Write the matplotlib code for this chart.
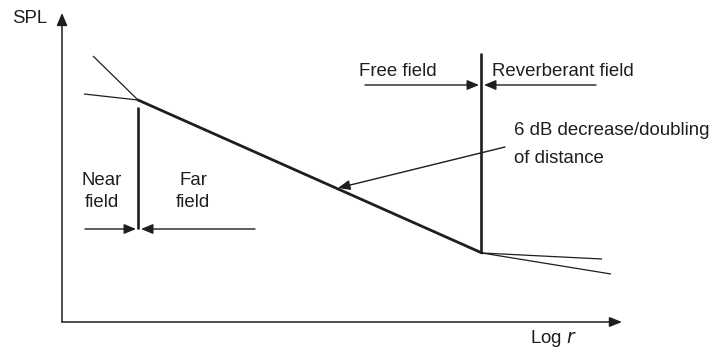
import matplotlib
matplotlib.use("Agg")
import matplotlib.pyplot as plt

plt.rcParams['font.family'] = ['Liberation Sans', 'DejaVu Sans']

# schematic coordinates (x to the right, y downward, figure pixel units)
origin = (62, 322)
y_axis_top = 13
x_axis_end = 622

# SPL curve pieces
near_steep_x = [93, 138]
near_steep_y = [56, 100]
near_flat_x = [84, 138]
near_flat_y = [94, 100]
main_x = [138, 482]
main_y = [100, 253]
reverb_flat_x = [482, 602]
reverb_flat_y = [253, 259]
reverb_slope_x = [482, 611]
reverb_slope_y = [253, 274]

# boundary lines
near_far_x = 138
near_far_y = [107, 229]
free_rev_x = 481
free_rev_y = [53, 253]

fig = plt.figure(figsize=(7.13, 3.51), dpi=100)
ax = fig.add_axes([0, 0, 1, 1])
ax.set_xlim(0, 713)
ax.set_ylim(351, 0)
ax.axis('off')

ink = '#1e1e1e'
fs = 13.4


def arrow(start, end, lw=1.0, hl=0.72, hw=0.3):
    ax.annotate('', xy=end, xytext=start,
                arrowprops=dict(arrowstyle=f'-|>,head_length={hl},head_width={hw}',
                                color=ink, lw=lw, shrinkA=0, shrinkB=0,
                                mutation_scale=10))


# axes
arrow(origin, (origin[0], y_axis_top), lw=1.1, hl=0.75, hw=0.32)
arrow(origin, (x_axis_end, origin[1]), lw=1.1, hl=0.75, hw=0.3)
ax.text(12, 23, 'SPL', fontsize=fs, color=ink, ha='left', va='baseline')
ax.text(530, 343, 'Log $\\it{r}$', fontsize=fs, color=ink, ha='left', va='baseline')

# curve
ax.plot(near_steep_x, near_steep_y, color=ink, lw=0.9, solid_capstyle='butt')
ax.plot(near_flat_x, near_flat_y, color=ink, lw=0.9, solid_capstyle='butt')
ax.plot(main_x, main_y, color=ink, lw=2.0, solid_capstyle='round')
ax.plot(reverb_flat_x, reverb_flat_y, color=ink, lw=0.9, solid_capstyle='butt')
ax.plot(reverb_slope_x, reverb_slope_y, color=ink, lw=0.9, solid_capstyle='butt')

# boundaries
ax.plot([near_far_x] * 2, near_far_y, color=ink, lw=1.9, solid_capstyle='butt')
ax.plot([free_rev_x] * 2, free_rev_y, color=ink, lw=1.9, solid_capstyle='butt')

# near / far field labels
ax.text(102, 185, 'Near', fontsize=fs, color=ink, ha='center', va='baseline')
ax.text(102, 207, 'field', fontsize=fs, color=ink, ha='center', va='baseline')
ax.text(193, 185, 'Far', fontsize=fs, color=ink, ha='center', va='baseline')
ax.text(193, 207, 'field', fontsize=fs, color=ink, ha='center', va='baseline')
arrow((85, 229), (136, 229))
arrow((255, 229), (141, 229))

# free / reverberant field labels
ax.text(398, 76, 'Free field', fontsize=fs, color=ink, ha='center', va='baseline')
ax.text(492, 76, 'Reverberant field', fontsize=fs, color=ink, ha='left', va='baseline')
arrow((365, 85), (479, 85))
arrow((596, 85), (484, 85))

# slope annotation
ax.text(514, 135, '6 dB decrease/doubling', fontsize=fs, color=ink, ha='left', va='baseline')
ax.text(514, 163, 'of distance', fontsize=fs, color=ink, ha='left', va='baseline')
arrow((505, 147), (338, 188))

fig.savefig('out.png', dpi=100)
